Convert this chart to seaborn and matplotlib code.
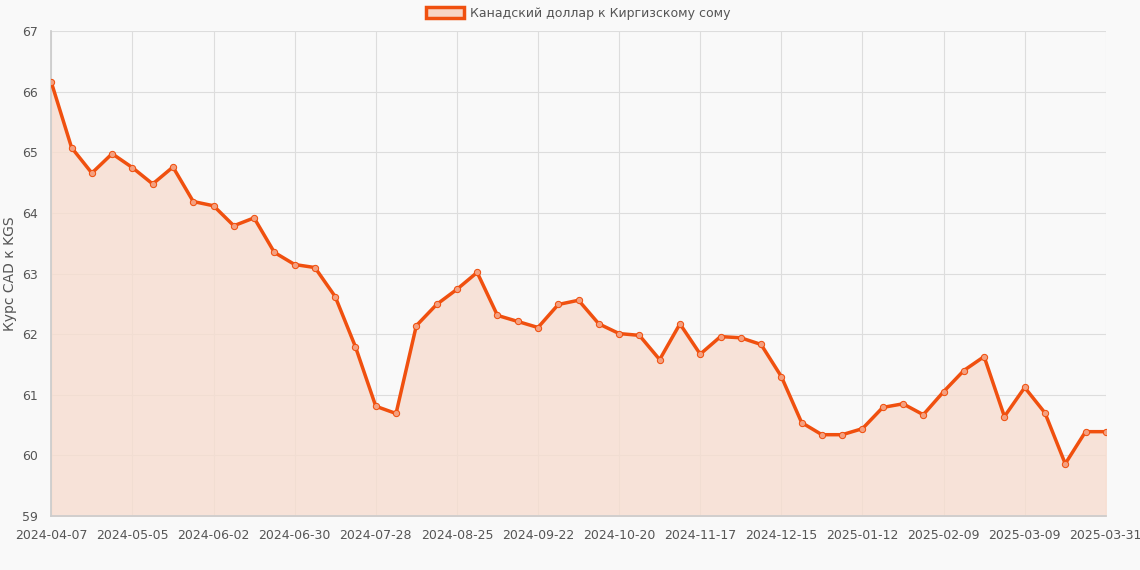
import matplotlib
matplotlib.use("Agg")
import matplotlib.pyplot as plt
from matplotlib.patches import Patch
import seaborn as sns
import pandas as pd
import numpy as np

values = [66.16,65.08,64.66,64.98,64.75,64.48,64.76,64.19,64.12,63.79,63.92,63.35,63.15,63.10,62.62,61.79,
          60.81,60.69,62.14,62.49,62.74,63.02,62.31,62.21,62.11,62.49,62.56,62.17,62.01,61.98,61.58,62.17,
          61.67,61.96,61.94,61.83,61.30,60.54,60.34,60.34,60.44,60.79,60.85,60.67,61.05,61.40,61.63,60.64,
          61.12,60.70,59.86,60.39,60.39]
dates = list(pd.date_range("2024-04-07", periods=52, freq="7D").strftime("%Y-%m-%d")) + ["2025-03-31"]
label = "Канадский доллар к Киргизскому сому"
ylabel = "Курс CAD к KGS"

sns.set_theme(style="whitegrid")
plt.rcParams['font.family'] = ['DejaVu Sans']
fig, ax = plt.subplots(figsize=(11.4, 5.7), dpi=100)
fig.patch.set_facecolor("#f9f9f9")
ax.set_facecolor("#f9f9f9")
x = np.arange(len(values))
df = pd.DataFrame({"x": x, "y": values})
color = "#f0500f"
ax.fill_between(x, values, 59, color="#f7ddd0", alpha=0.8, zorder=1)
sns.lineplot(data=df, x="x", y="y", ax=ax, color=color, linewidth=2.5, marker="o",
             markersize=4.5, markerfacecolor="#f4a080", markeredgecolor=color, legend=False, zorder=3)
ax.set_xlim(0, len(values) - 1)
ax.set_ylim(59, 67)
ticks = list(range(0, 49, 4)) + [52]
ax.set_xticks(ticks)
ax.set_xticklabels([dates[i] for i in ticks], fontsize=9, color="#555")
ax.set_yticks(range(59, 68))
ax.tick_params(axis="y", labelsize=9, labelcolor="#555")
ax.set_xlabel("")
ax.set_ylabel(ylabel, fontsize=10, color="#555")
ax.grid(color="#dddddd", linewidth=0.8)
for s in ax.spines.values():
    s.set_visible(False)
ax.spines["left"].set_visible(True); ax.spines["left"].set_color("#ccc")
ax.spines["bottom"].set_visible(True); ax.spines["bottom"].set_color("#ccc")
handle = Patch(facecolor="#f7d5c5", edgecolor=color, linewidth=2.5, label=label)
leg = ax.legend(handles=[handle], loc="lower center", bbox_to_anchor=(0.5, 1.0), frameon=False, fontsize=9,
                handlelength=3, handleheight=1.0, handletextpad=0.5)
for t in leg.get_texts():
    t.set_color("#555")
plt.subplots_adjust(left=0.045, right=0.97, top=0.945, bottom=0.095)
fig.savefig("out.png", dpi=100, facecolor=fig.get_facecolor())
